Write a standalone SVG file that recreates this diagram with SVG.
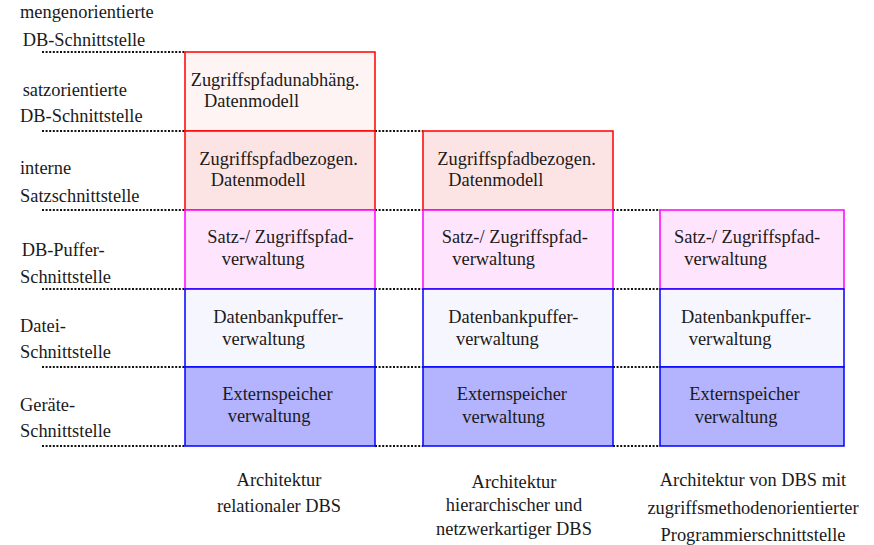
<svg xmlns="http://www.w3.org/2000/svg" width="874" height="545" viewBox="0 0 874 545">
  <style>
    text { font-family: 'Liberation Serif', 'Times New Roman', serif; font-size: 18.4px; fill: #1a1a1a; }
    .mid { text-anchor: middle; }
    .sep { stroke: #111; stroke-width: 2; stroke-dasharray: 2 1.6; fill: none; }
    .box { stroke-width: 1.5; }
    .r1 { fill: #FFF4F4; stroke: #FF0000; }
    .r2 { fill: #FDE4E4; stroke: #FF0000; }
    .r3 { fill: #FEE4FC; stroke: #FF00FF; }
    .r4 { fill: #F6F6FE; stroke: #0000FF; }
    .r5 { fill: #B3B3FE; stroke: #0000FF; }
  </style>
  <rect width="874" height="545" fill="#FFFFFF"/>

  <!-- interface levels (dotted separators between the stacks) -->
  <g id="connectors">
    <line class="sep" x1="42" y1="52" x2="185" y2="52"/>
    <line class="sep" x1="42" y1="131" x2="185" y2="131"/>
    <line class="sep" x1="375" y1="131" x2="423" y2="131"/>
    <line class="sep" x1="42" y1="210" x2="185" y2="210"/>
    <line class="sep" x1="375" y1="210" x2="423" y2="210"/>
    <line class="sep" x1="613" y1="210" x2="660" y2="210"/>
    <line class="sep" x1="42" y1="289" x2="185" y2="289"/>
    <line class="sep" x1="375" y1="289" x2="423" y2="289"/>
    <line class="sep" x1="613" y1="289" x2="660" y2="289"/>
    <line class="sep" x1="42" y1="367" x2="185" y2="367"/>
    <line class="sep" x1="375" y1="367" x2="423" y2="367"/>
    <line class="sep" x1="613" y1="367" x2="660" y2="367"/>
    <line class="sep" x1="42" y1="446" x2="185" y2="446"/>
    <line class="sep" x1="375" y1="446" x2="423" y2="446"/>
    <line class="sep" x1="613" y1="446" x2="660" y2="446"/>
  </g>

  <!-- interface labels -->
  <g id="labels">
    <text x="20" y="18">mengenorientierte</text>
    <text x="22.7" y="45.5">DB-Schnittstelle</text>
    <text x="22.7" y="95.5">satzorientierte</text>
    <text x="20" y="122.3">DB-Schnittstelle</text>
    <text x="20" y="174">interne</text>
    <text x="20" y="201.7">Satzschnittstelle</text>
    <text x="21.7" y="256">DB-Puffer-</text>
    <text x="20" y="282.7">Schnittstelle</text>
    <text x="20" y="331.7">Datei-</text>
    <text x="20" y="358.3">Schnittstelle</text>
    <text x="20" y="410.7">Geräte-</text>
    <text x="20" y="437.3">Schnittstelle</text>
  </g>

  <!-- relational DBS -->
  <g id="c1-datenmodell-unabh">
    <rect class="box r1" x="185" y="52" width="190" height="79"/>
    <text x="190.7" y="86">Zugriffspfadunabhäng.</text>
    <text x="204" y="106.7">Datenmodell</text>
  </g>
  <g id="c1-datenmodell-bez">
    <rect class="box r2" x="185" y="131" width="190" height="79"/>
    <text x="199.3" y="165">Zugriffspfadbezogen.</text>
    <text x="210.7" y="186">Datenmodell</text>
  </g>
  <g id="c1-satz">
    <rect class="box r3" x="185" y="210" width="190" height="79"/>
    <text x="207.3" y="243.3">Satz-/ Zugriffspfad-</text>
    <text x="221.7" y="264.5">verwaltung</text>
  </g>
  <g id="c1-puffer">
    <rect class="box r4" x="185" y="289" width="190" height="78"/>
    <text x="213.3" y="322.7">Datenbankpuffer-</text>
    <text x="222.3" y="344.5">verwaltung</text>
  </g>
  <g id="c1-extern">
    <rect class="box r5" x="185" y="367" width="190" height="79"/>
    <text x="222.3" y="399.5">Externspeicher</text>
    <text x="227.7" y="422.3">verwaltung</text>
  </g>

  <!-- hierarchical / network DBS -->
  <g id="c2-datenmodell-bez">
    <rect class="box r2" x="423" y="131" width="190" height="79"/>
    <text x="437.3" y="164.5">Zugriffspfadbezogen.</text>
    <text x="448.3" y="186">Datenmodell</text>
  </g>
  <g id="c2-satz">
    <rect class="box r3" x="423" y="210" width="190" height="79"/>
    <text x="441.7" y="243.3">Satz-/ Zugriffspfad-</text>
    <text x="452.3" y="265">verwaltung</text>
  </g>
  <g id="c2-puffer">
    <rect class="box r4" x="423" y="289" width="190" height="78"/>
    <text x="448.3" y="322.7">Datenbankpuffer-</text>
    <text x="456" y="345">verwaltung</text>
  </g>
  <g id="c2-extern">
    <rect class="box r5" x="423" y="367" width="190" height="79"/>
    <text x="456.7" y="400">Externspeicher</text>
    <text x="462.3" y="422.7">verwaltung</text>
  </g>

  <!-- access-method oriented DBS -->
  <g id="c3-satz">
    <rect class="box r3" x="660" y="210" width="184" height="79"/>
    <text x="674" y="243.3">Satz-/ Zugriffspfad-</text>
    <text x="684.3" y="265">verwaltung</text>
  </g>
  <g id="c3-puffer">
    <rect class="box r4" x="660" y="289" width="184" height="78"/>
    <text x="681" y="322.7">Datenbankpuffer-</text>
    <text x="688.7" y="345">verwaltung</text>
  </g>
  <g id="c3-extern">
    <rect class="box r5" x="660" y="367" width="184" height="79"/>
    <text x="689.3" y="400">Externspeicher</text>
    <text x="694.7" y="422.7">verwaltung</text>
  </g>

  <!-- column captions -->
  <g id="captions">
    <text class="mid" x="279" y="485.5">Architektur</text>
    <text class="mid" x="279" y="512">relationaler DBS</text>
    <text class="mid" x="514" y="487.5">Architektur</text>
    <text class="mid" x="514" y="511">hierarchischer und</text>
    <text class="mid" x="514" y="534.5">netzwerkartiger DBS</text>
    <text class="mid" x="753" y="485.5">Architektur von DBS mit</text>
    <text class="mid" x="753" y="513.5">zugriffsmethodenorientierter</text>
    <text class="mid" x="753" y="541">Programmierschnittstelle</text>
  </g>
</svg>
